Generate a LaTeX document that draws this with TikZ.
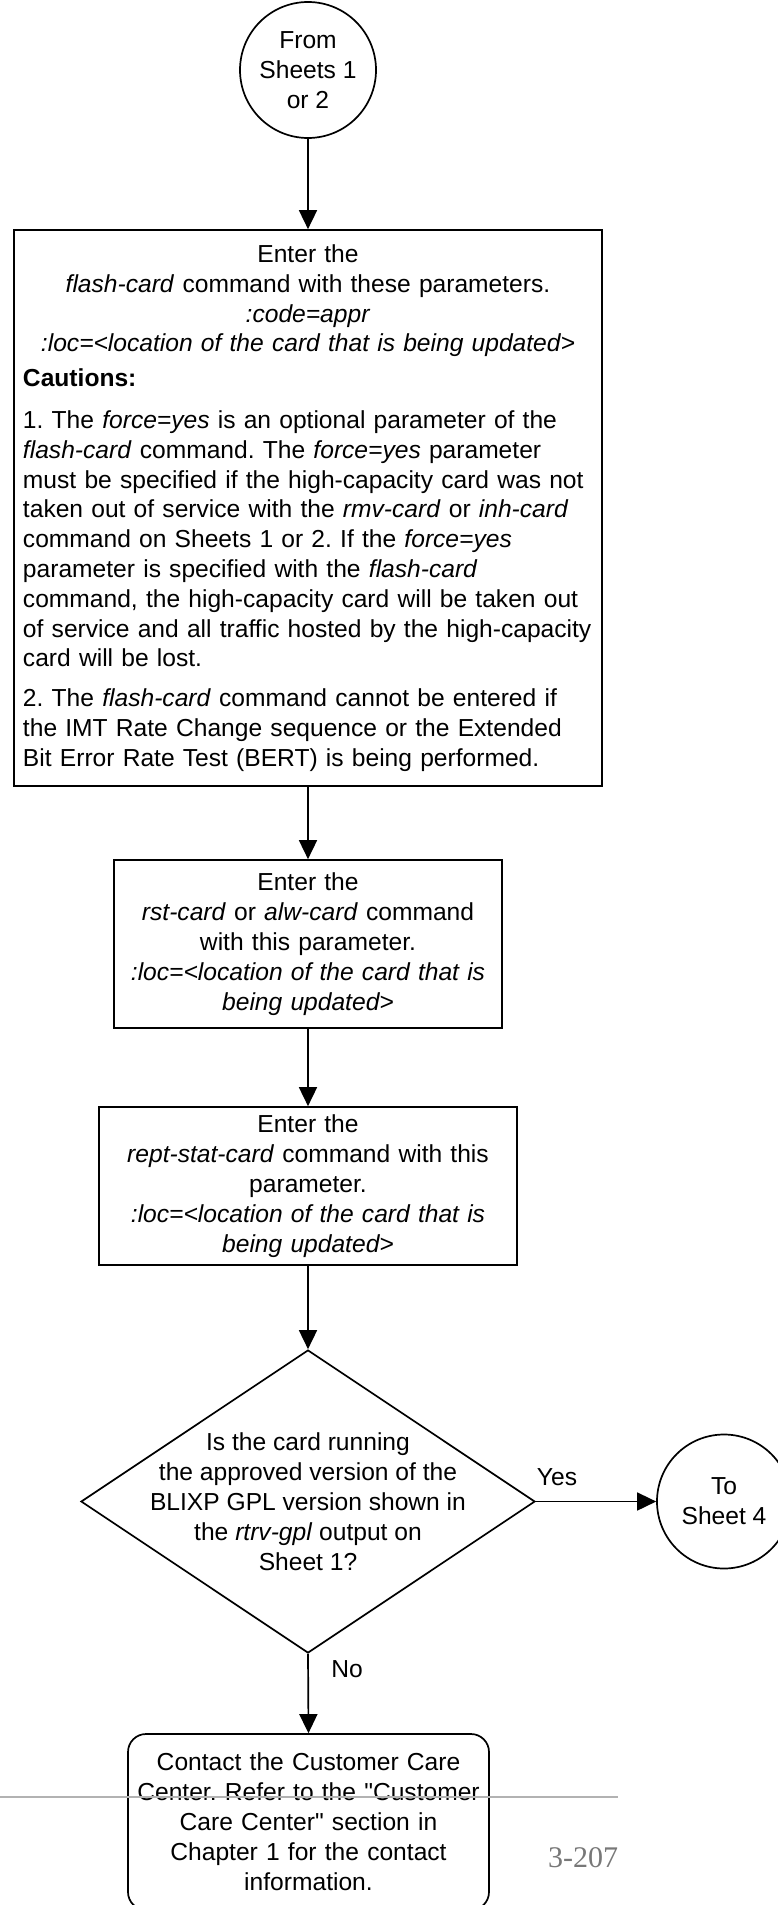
\documentclass[tikz,border=0pt]{standalone}
\usepackage{fontspec}
\setmainfont{Liberation Sans}[Ligatures=TeXOff]
\newfontfamily\pagefont{Liberation Serif}
\usetikzlibrary{arrows.meta,shapes.geometric}
\definecolor{rulegray}{RGB}{178,178,178}
\definecolor{pagegray}{RGB}{120,120,120}
\newcommand{\ctrline}[1]{\makebox[570pt][c]{#1}}
\tikzset{
  base/.style={draw=black, line width=1.7pt, inner sep=0pt, font=\fontsize{24.6}{30}\selectfont\frenchspacing},
  procbox/.style={base, rectangle, align=center},
  endbox/.style={base, rectangle, rounded corners=18pt, align=center},
  term/.style={base, circle, align=center},
  decision/.style={draw=black, line width=1.7pt, diamond, inner sep=0pt, minimum width=454pt, minimum height=303pt},
  txt/.style={inner sep=0pt, align=center, font=\fontsize{24.6}{30}\selectfont},
  arr/.style={line width=1.7pt, -{Triangle[length=19pt,width=18pt]}},
}
\begin{document}
\frenchspacing
\begin{tikzpicture}[x=1pt,y=1pt]
\fill[white] (0,0) rectangle (778,-1905);
\useasboundingbox (0,0) rectangle (778,-1905);
\clip (0,0) rectangle (778,-1905);

\node[term, minimum size=136pt] (start) at (308,-70) {From\\Sheets 1\\or 2};

\node[procbox, align=left, minimum width=588pt, minimum height=556pt, text width=570pt, inner xsep=9pt,
      font=\fontsize{24.6}{29.8}\selectfont\frenchspacing] (b1) at (308,-508) {%
\ctrline{Enter the}\\
\ctrline{\textit{flash-card} command with these parameters.}\\
\ctrline{\textit{:code=appr}}\\
\ctrline{\textit{:loc=<location of the card that is being updated>}}\\[5pt]
\textbf{Cautions:}\\[12pt]
\mbox{1. The \textit{force=yes} is an optional parameter of the}\\
\mbox{\textit{flash-card} command. The \textit{force=yes} parameter}\\
\mbox{must be specified if the high-capacity card was not}\\
\mbox{taken out of service with the \textit{rmv-card} or \textit{inh-card}}\\
\mbox{command on Sheets 1 or 2. If the \textit{force=yes}}\\
\mbox{parameter is specified with the \textit{flash-card}}\\
\mbox{command, the high-capacity card will be taken out}\\
\mbox{of service and all traffic hosted by the high-capacity}\\
card will be lost.\\[10pt]
\mbox{2. The \textit{flash-card} command cannot be entered if}\\
\mbox{the IMT Rate Change sequence or the Extended}\\
\mbox{Bit Error Rate Test (BERT) is being performed.}};

\node[procbox, minimum width=388pt, minimum height=168pt, text width=380pt] (b2) at (308,-944) {%
Enter the\\
\textit{rst-card} or \textit{alw-card} command\\
with this parameter.\\
\textit{:loc=<location of the card that is}\\
\textit{being updated>}};

\node[procbox, minimum width=418pt, minimum height=158pt, text width=410pt] (b3) at (308,-1186) {%
Enter the\\
\textit{rept-stat-card} command with this\\
parameter.\\
\textit{:loc=<location of the card that is}\\
\textit{being updated>}};

\node[decision] (d) at (308,-1501.5) {};
\node[txt] (dtext) at (d.center) {%
Is the card running\\
the approved version of the\\
BLIXP GPL version shown in\\
the \textit{rtrv-gpl} output on\\
Sheet 1?};

\node[term, minimum size=134pt] (s4) at (724,-1501.5) {To\\Sheet 4};

\node[endbox, minimum width=361pt, minimum height=176pt, text width=355pt] (e) at (308.5,-1822) {%
Contact the Customer Care\\
Center. Refer to the "Customer\\
Care Center" section in\\
Chapter 1 for the contact\\
information.};

\draw[arr] (start.south) -- (b1.north);
\draw[arr] (b1.south) -- (b2.north);
\draw[arr] (b2.south) -- (b3.north);
\draw[arr] (b3.south) -- (d.north);
\draw[arr] (d.east) -- (s4.west);
\draw[arr] (d.south) -- (e.north);

\node[txt] (yes) at (557,-1477) {Yes};
\node[txt] (no) at (347,-1669) {No};

\coordinate (ruleL) at (0,-1797);
\coordinate (ruleR) at (618,-1797);
\draw[rulegray, line width=2pt] (ruleL) -- (ruleR);
\node[inner sep=0pt, text=pagegray, font=\pagefont\fontsize{30}{36}\selectfont] (pg) at (583,-1858) {3-207};
\end{tikzpicture}
\end{document}
